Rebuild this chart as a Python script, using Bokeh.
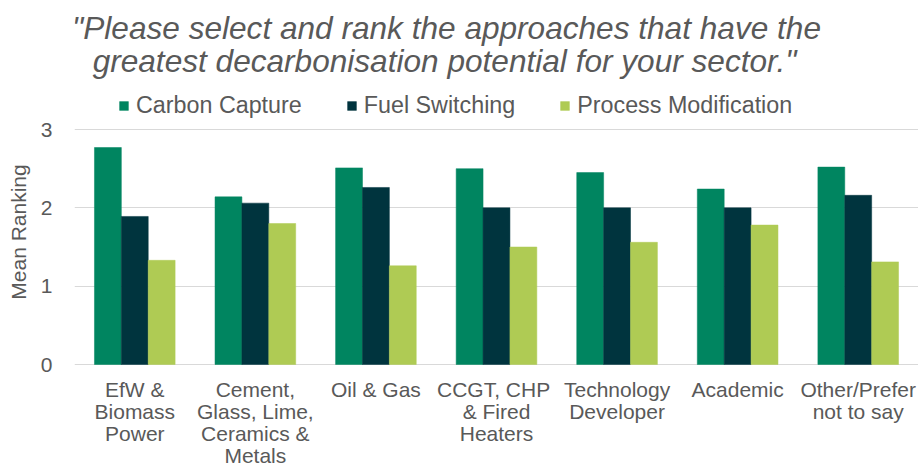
from bokeh.plotting import figure
from bokeh.models import FactorRange, Legend, LegendItem, Label, FixedTicker, Range1d
from bokeh.core.properties import value
from bokeh.transform import dodge
from bokeh.embed import file_html
from bokeh.resources import INLINE

categories = ["EfW &\nBiomass\nPower", "Cement,\nGlass, Lime,\nCeramics &\nMetals", "Oil & Gas",
              "CCGT,  CHP\n& Fired\nHeaters", "Technology\nDeveloper", "Academic", "Other/Prefer\nnot to say"]
series_names = ["Carbon Capture", "Fuel Switching", "Process Modification"]
carbon_capture = [2.77, 2.14, 2.51, 2.50, 2.45, 2.24, 2.52]
fuel_switching = [1.89, 2.06, 2.26, 2.00, 2.00, 2.00, 2.16]
process_modification = [1.33, 1.80, 1.26, 1.50, 1.56, 1.78, 1.31]
y_ticks = [0, 1, 2, 3]
title_lines = ['"Please select and rank the approaches that have the',
               'greatest decarbonisation potential for your sector."']
y_label = "Mean Ranking"

colors = ["#008560", "#00343E", "#AFCB54"]
TEXT = "#595959"
FONT = "Liberation Sans"

# frame covers the full canvas height; value axis 0..3 occupies 235 px,
# with 129 px above it and 99 px below it for titles / category labels
H, TOP, AX, BOT = 463, 129, 235, 99
ppu = AX / 3
p = figure(x_range=FactorRange(*categories, range_padding=0),
           y_range=Range1d(-BOT / ppu, (AX + TOP) / ppu),
           width=918, height=H, output_backend="svg", toolbar_location=None,
           min_border_left=74, min_border_right=0, min_border_top=0, min_border_bottom=0)
p.outline_line_color = None
p.background_fill_color = "white"

data = dict(cat=categories, cc=carbon_capture, fs=fuel_switching, pm=process_modification)
bw = 0.223
renderers = []
for key, off, col in zip(["cc", "fs", "pm"], [-bw, 0, bw], colors):
    r = p.vbar(x=dodge("cat", off, range=p.x_range), top=key, width=bw, source=data,
               fill_color=col, line_color=col, line_width=0.5)
    renderers.append(r)

# category labels below the zero line
p.text(x=categories, y=[0] * len(categories), text=categories, y_offset=13,
       text_align="center", text_baseline="top", text_font=value(FONT),
       text_font_size="21px", text_color=TEXT, text_line_height=0.96)

p.xaxis.visible = False
p.xgrid.grid_line_color = None
p.ygrid.grid_line_color = "#D9D9D9"
p.ygrid.grid_line_width = 1
p.yaxis.ticker = FixedTicker(ticks=y_ticks)
p.yaxis.bounds = (0, 3)
p.yaxis.axis_line_color = None
p.yaxis.major_tick_line_color = None
p.yaxis.minor_tick_line_color = None
p.yaxis.major_tick_out = 0
p.yaxis.major_tick_in = 0
p.yaxis.major_label_text_font = FONT
p.yaxis.major_label_text_font_size = "21px"
p.yaxis.major_label_text_color = TEXT
p.yaxis.major_label_standoff = 22
p.yaxis.axis_label = y_label
p.yaxis.axis_label_text_font = FONT
p.yaxis.axis_label_text_font_style = "normal"
p.yaxis.axis_label_text_font_size = "21px"
p.yaxis.axis_label_text_color = TEXT
p.yaxis.axis_label_standoff = 8

legend = Legend(items=[LegendItem(label=n, renderers=[r]) for n, r in zip(series_names, renderers)],
                orientation="horizontal", location=(44, 344),
                glyph_width=11, glyph_height=11, label_standoff=7, spacing=44,
                padding=0, margin=0, border_line_color=None, background_fill_alpha=0,
                label_text_font=FONT, label_text_font_size="23.3px", label_text_color=TEXT)
p.add_layout(legend, "center")

for t, (lx, ly) in zip(title_lines, [(372, 436), (370, 403)]):
    p.add_layout(Label(x=lx, y=ly, x_units="screen", y_units="screen", text=t,
                       text_align="center", text_baseline="alphabetic",
                       text_font=FONT, text_font_style="italic", text_font_size="31.6px",
                       text_color=TEXT))

open("out.html", "w").write(file_html(p, INLINE))
